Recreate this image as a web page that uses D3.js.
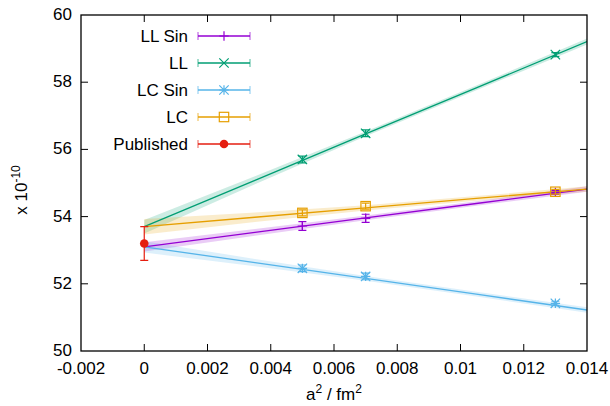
<!DOCTYPE html>
<html><head><meta charset="utf-8">
<script src="https://cdn.jsdelivr.net/npm/d3@7"></script>
<style>body{margin:0;background:#fff}svg text{font-family:"Liberation Sans",Arial,Helvetica,sans-serif}</style>
</head><body><svg id="c" width="610" height="406"></svg>
<script>
// ---- data ----
const seriesNames = ["LL Sin", "LL", "LC Sin", "LC", "Published"];
const seriesColors = ["#9400d3", "#009e73", "#56b4e9", "#e69f00", "#e51e10"];
const markerTypes = ["plus", "cross", "star", "square", "circle"];
const dataX = [0.005, 0.007, 0.013];
const llSinY = [53.72, 53.95, 54.72];
const llSinErr = [0.13, 0.12, 0.06];
const llY = [55.70, 56.48, 58.82];
const llErr = [0.10, 0.10, 0.06];
const lcSinY = [52.46, 52.22, 51.42];
const lcSinErr = [0.10, 0.10, 0.06];
const lcY = [54.11, 54.31, 54.74];
const lcErr = [0.09, 0.09, 0.07];
const publishedX = [0];
const publishedY = [53.2];
const publishedErr = [0.5];
// fit lines sampled along a^2
const fitX = [0, 0.0035, 0.007, 0.0105, 0.014];
const llSinFit = [53.10, 53.53, 53.96, 54.39, 54.82];
const llFit = [53.70, 55.08, 56.46, 57.83, 59.21];
const lcSinFit = [53.10, 52.63, 52.16, 51.69, 51.22];
const lcFit = [53.70, 53.98, 54.26, 54.54, 54.82];
const llSinBand = [0.14, 0.10, 0.07, 0.07, 0.08];
const llBand = [0.20, 0.12, 0.07, 0.07, 0.09];
const lcSinBand = [0.17, 0.11, 0.07, 0.07, 0.08];
const lcBand = [0.23, 0.14, 0.08, 0.07, 0.08];
const xTicks = [-0.002, 0, 0.002, 0.004, 0.006, 0.008, 0.01, 0.012, 0.014];
const xTickLabels = ["-0.002", "0", "0.002", "0.004", "0.006", "0.008", "0.01", "0.012", "0.014"];
const yTicks = [50, 52, 54, 56, 58, 60];

// ---- layout ----
const FS = 17;
const svg = d3.select("#c");
const L = 81, R = 587, T = 15, B = 351;
const x = d3.scaleLinear().domain([-0.002, 0.014]).range([L, R]);
const y = d3.scaleLinear().domain([50, 60]).range([B, T]);

svg.append("defs").append("clipPath").attr("id", "clip")
  .append("rect").attr("x", L).attr("y", T).attr("width", R - L).attr("height", B - T);
const plot = svg.append("g").attr("clip-path", "url(#clip)");

const fits = [
  {fit: llSinFit, band: llSinBand, i: 0},
  {fit: llFit, band: llBand, i: 1},
  {fit: lcSinFit, band: lcSinBand, i: 2},
  {fit: lcFit, band: lcBand, i: 3}
];
const pts = [
  {ys: llSinY, es: llSinErr, xs: dataX, i: 0},
  {ys: llY, es: llErr, xs: dataX, i: 1},
  {ys: lcSinY, es: lcSinErr, xs: dataX, i: 2},
  {ys: lcY, es: lcErr, xs: dataX, i: 3},
  {ys: publishedY, es: publishedErr, xs: publishedX, i: 4}
];

fits.forEach(f => {
  const area = d3.area().x((d, k) => x(fitX[k])).y0((d, k) => y(d - f.band[k])).y1((d, k) => y(d + f.band[k]));
  plot.append("path").datum(f.fit).attr("d", area).attr("fill", seriesColors[f.i]).attr("fill-opacity", 0.2);
});
fits.forEach(f => {
  const line = d3.line().x((d, k) => x(fitX[k])).y(d => y(d));
  plot.append("path").datum(f.fit).attr("d", line).attr("fill", "none")
    .attr("stroke", seriesColors[f.i]).attr("stroke-width", 1.3);
});

function marker(g, type, cx, cy, color) {
  const s = 4.7;
  if (type === "plus") {
    g.append("path").attr("d", `M${cx - s},${cy}H${cx + s}M${cx},${cy - s}V${cy + s}`).attr("stroke", color).attr("stroke-width", 1.2).attr("fill", "none");
  } else if (type === "cross") {
    g.append("path").attr("d", `M${cx - s},${cy - s}L${cx + s},${cy + s}M${cx - s},${cy + s}L${cx + s},${cy - s}`).attr("stroke", color).attr("stroke-width", 1.2).attr("fill", "none");
  } else if (type === "star") {
    g.append("path").attr("d", `M${cx - s},${cy}H${cx + s}M${cx},${cy - s}V${cy + s}M${cx - s},${cy - s}L${cx + s},${cy + s}M${cx - s},${cy + s}L${cx + s},${cy - s}`).attr("stroke", color).attr("stroke-width", 1.2).attr("fill", "none");
  } else if (type === "square") {
    g.append("rect").attr("x", cx - s).attr("y", cy - s).attr("width", 2 * s).attr("height", 2 * s).attr("stroke", color).attr("stroke-width", 1.2).attr("fill", "none");
  } else if (type === "circle") {
    g.append("circle").attr("cx", cx).attr("cy", cy).attr("r", 4.3).attr("fill", color);
  }
}

const pg = svg.append("g");
pts.forEach(p => {
  const c = seriesColors[p.i];
  p.xs.forEach((xv, k) => {
    const cx = x(xv), y1 = y(p.ys[k] + p.es[k]), y2 = y(p.ys[k] - p.es[k]);
    pg.append("path").attr("d", `M${cx},${y1}V${y2}M${cx - 4},${y1}H${cx + 4}M${cx - 4},${y2}H${cx + 4}`)
      .attr("stroke", c).attr("stroke-width", 1.2).attr("fill", "none");
    marker(pg, markerTypes[p.i], cx, y(p.ys[k]), c);
  });
});

const ax = svg.append("g").attr("stroke", "#000").attr("stroke-width", 1);
ax.append("rect").attr("x", L).attr("y", T).attr("width", R - L).attr("height", B - T).attr("fill", "none").attr("stroke-width", 1.3);
const tl = 7;
xTicks.forEach((t, k) => {
  const px = x(t);
  if (k > 0 && k < xTicks.length - 1) {
    ax.append("line").attr("x1", px).attr("x2", px).attr("y1", B).attr("y2", B - tl);
    ax.append("line").attr("x1", px).attr("x2", px).attr("y1", T).attr("y2", T + tl);
  }
  svg.append("text").attr("x", px).attr("y", B + 23).attr("text-anchor", "middle").attr("font-size", FS).text(xTickLabels[k]);
});
yTicks.forEach((t, k) => {
  const py = y(t);
  if (k > 0 && k < yTicks.length - 1) {
    ax.append("line").attr("x1", L).attr("x2", L + tl).attr("y1", py).attr("y2", py);
    ax.append("line").attr("x1", R).attr("x2", R - tl).attr("y1", py).attr("y2", py);
  }
  svg.append("text").attr("x", 72).attr("y", py + 5).attr("text-anchor", "end").attr("font-size", FS).text(t);
});

const xl = svg.append("text").attr("x", x(0.006)).attr("y", 400).attr("text-anchor", "middle").attr("font-size", FS);
xl.append("tspan").text("a");
xl.append("tspan").attr("dy", -7).attr("font-size", 12).text("2");
xl.append("tspan").attr("dy", 7).text(" / fm");
xl.append("tspan").attr("dy", -7).attr("font-size", 12).text("2");

const yl = svg.append("text").attr("transform", "translate(27,190) rotate(-90)").attr("text-anchor", "middle").attr("font-size", FS);
yl.append("tspan").text("x 10");
yl.append("tspan").attr("dy", -7).attr("font-size", 12).text("-10");

const legY0 = 36, legDy = 27;
seriesNames.forEach((n, k) => {
  const ly = legY0 + k * legDy, c = seriesColors[k];
  svg.append("text").attr("x", 188).attr("y", ly + 6).attr("text-anchor", "end").attr("font-size", FS).text(n);
  svg.append("path").attr("d", `M198,${ly}H250`).attr("stroke", c).attr("stroke-width", 1.3);
  svg.append("path").attr("d", `M198,${ly - 4}V${ly + 4}M250,${ly - 4}V${ly + 4}`).attr("stroke", c).attr("stroke-width", 1.3).attr("stroke-opacity", 0.55);
  marker(svg, markerTypes[k], 224, ly, c);
});
</script></body></html>
